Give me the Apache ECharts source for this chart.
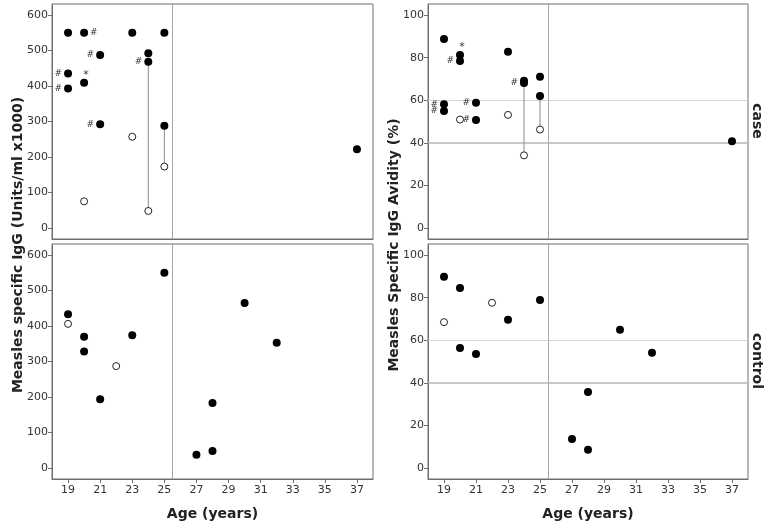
<!DOCTYPE html>
<html>
<head>
<meta charset="utf-8">
<script src="https://cdn.jsdelivr.net/npm/echarts@6/dist/echarts.min.js"></script>
<style>
  html, body { margin: 0; padding: 0; background: #fff; }
  #chart { width: 774px; height: 527px; }
</style>
</head>
<body>
<div id="chart"></div>
<script>
// ages on x
const ageTicks = [19, 21, 23, 25, 27, 29, 31, 33, 35, 37]
const iggTicks = [0, 100, 200, 300, 400, 500, 600]
const avidityTicks = [0, 20, 40, 60, 80, 100]

// case, IgG
const caseIgGFilled = [[19, 550], [20, 550], [23, 550], [25, 550], [21, 487], [24, 492], [24, 468], [19, 435], [19, 393], [20, 409], [21, 292], [25, 288], [37, 222]]
const caseIgGMarks = ['', '#', '', '', '#', '', '#', '#', '#', '*', '#', '', '']
const caseIgGMarkPos = ['', 'right', '', '', 'left', '', 'left', 'left', 'left', 'top', 'left', '', '']
const caseIgGOpen = [[23, 257], [20, 75], [24, 48], [25, 173]]
const caseIgGPairs = [[[24, 468], [24, 48]], [[25, 288], [25, 173]]]

// case, avidity
const caseAvFilled = [[19, 88.7], [20, 81.2], [20, 78.4], [23, 82.8], [24, 69.2], [24, 68.1], [25, 71.0], [25, 62.0], [19, 58.1], [19, 54.9], [21, 58.8], [21, 50.7], [37, 40.7]]
const caseAvMarks = ['', '*', '#', '', '', '#', '', '', '#', '#', '#', '#', '']
const caseAvMarkPos = ['', 'top', 'left', '', '', 'left', '', '', 'left', 'left', 'left', 'left', '']
const caseAvOpen = [[20, 50.9], [23, 53.1], [24, 34.1], [25, 46.2]]
const caseAvPairs = [[[24, 68.1], [24, 34.1]], [[25, 62.0], [25, 46.2]]]

// control, IgG
const ctrlIgGFilled = [[19, 433], [20, 370], [20, 328], [21, 194], [23, 374], [25, 550], [27, 37], [28, 183], [28, 48], [30, 465], [32, 353]]
const ctrlIgGOpen = [[19, 406], [22, 287]]

// control, avidity
const ctrlAvFilled = [[19, 89.8], [20, 84.5], [20, 56.3], [21, 53.5], [23, 69.6], [25, 78.9], [27, 13.6], [28, 35.7], [28, 8.6], [30, 64.9], [32, 54.1]]
const ctrlAvOpen = [[19, 68.5], [22, 77.6]]

const FONT = "DejaVu Sans"
const chart = echarts.init(document.getElementById("chart"), null, { renderer: "canvas" })

const grids = [
  { left: 52, top: 4, width: 321, height: 235 },
  { left: 428, top: 4, width: 320, height: 235 },
  { left: 52, top: 244, width: 321, height: 235 },
  { left: 428, top: 244, width: 320, height: 235 },
].map((g) => ({ ...g, show: true, borderColor: "#6e6e6e", borderWidth: 1, backgroundColor: "#fff" }))

function xAxis(i) {
  const bottom = i >= 2
  return {
    type: "value",
    gridIndex: i,
    min: 18,
    max: 38,
    name: bottom ? "Age (years)" : "",
    nameLocation: "middle",
    nameGap: 28,
    nameTextStyle: { fontFamily: FONT, fontWeight: "bold", fontSize: 14, color: "#222" },
    axisLine: { show: true, onZero: false, lineStyle: { color: "#6e6e6e" } },
    axisTick: { show: bottom, length: 4, lineStyle: { color: "#6e6e6e" }, customValues: ageTicks },
    axisLabel: { show: bottom, fontFamily: FONT, fontSize: 11, color: "#333", margin: 6, customValues: ageTicks },
    splitLine: { show: false },
  }
}

function yAxis(i) {
  const iggAxis = i % 2 === 0
  const ticks = iggAxis ? iggTicks : avidityTicks
  return {
    type: "value",
    gridIndex: i,
    min: iggAxis ? -31 : -5.2,
    max: iggAxis ? 631 : 105.2,
    axisLine: { show: true, onZero: false, lineStyle: { color: "#6e6e6e" } },
    axisTick: { show: true, length: 4, lineStyle: { color: "#6e6e6e" }, customValues: ticks },
    axisLabel: { fontFamily: FONT, fontSize: 11, color: "#333", margin: 4, customValues: ticks },
    splitLine: { show: false },
  }
}

function refLines(withAvidity) {
  const lines = [{ xAxis: 25.5, lineStyle: { color: "#a8a8a8", width: 1, type: "solid" } }]
  if (withAvidity) {
    lines.push({ yAxis: 40, lineStyle: { color: "#b4b4b4", width: 1.5, type: "solid" } })
    lines.push({ yAxis: 60, lineStyle: { color: "#d4d4d4", width: 1, type: "solid" } })
  }
  return { silent: true, symbol: "none", label: { show: false }, data: lines, z: 1 }
}

function filled(i, pts, marks, pos) {
  return {
    type: "scatter",
    xAxisIndex: i,
    yAxisIndex: i,
    symbolSize: 8,
    itemStyle: { color: "#000", opacity: 1 },
    z: 5,
    data: pts.map((p, k) => {
      const m = marks ? marks[k] : ""
      if (!m) return p
      const position = pos[k]
      return {
        value: p,
        label: {
          show: true,
          formatter: m,
          position,
          distance: 2,
          offset: m === "*" ? [2, 4] : [0, 0],
          fontFamily: FONT,
          fontSize: m === "*" ? 11 : 9,
          color: "#333",
        },
      }
    }),
    markLine: refLines(i % 2 === 1),
  }
}

function open(i, pts) {
  return {
    type: "scatter",
    xAxisIndex: i,
    yAxisIndex: i,
    symbolSize: 7,
    itemStyle: { color: "#fff", borderColor: "#222", borderWidth: 1, opacity: 1 },
    z: 6,
    data: pts,
  }
}

function pairs(i, list) {
  return list.map((seg) => ({
    type: "line",
    xAxisIndex: i,
    yAxisIndex: i,
    data: seg,
    symbol: "none",
    silent: true,
    lineStyle: { color: "#8a8a8a", width: 1 },
    z: 3,
  }))
}

const sideText = (text, x, y, rotation, size) => ({
  type: "text",
  x,
  y,
  rotation,
  style: {
    text,
    fontFamily: FONT,
    fontWeight: "bold",
    fontSize: size,
    fill: "#222",
    align: "center",
    verticalAlign: "middle",
  },
})

chart.setOption({
  animation: false,
  grid: grids,
  xAxis: [0, 1, 2, 3].map(xAxis),
  yAxis: [0, 1, 2, 3].map(yAxis),
  series: [
    ...pairs(0, caseIgGPairs),
    filled(0, caseIgGFilled, caseIgGMarks, caseIgGMarkPos),
    open(0, caseIgGOpen),
    ...pairs(1, caseAvPairs),
    filled(1, caseAvFilled, caseAvMarks, caseAvMarkPos),
    open(1, caseAvOpen),
    filled(2, ctrlIgGFilled),
    open(2, ctrlIgGOpen),
    filled(3, ctrlAvFilled),
    open(3, ctrlAvOpen),
  ],
  graphic: [
    sideText("Measles specific IgG (Units/ml x1000)", 18, 245, Math.PI / 2, 14),
    sideText("Measles Specific IgG Avidity (%)", 394, 245, Math.PI / 2, 14),
    sideText("case", 757, 121, -Math.PI / 2, 14),
    sideText("control", 757, 361, -Math.PI / 2, 14),
  ],
})
</script>
</body>
</html>
